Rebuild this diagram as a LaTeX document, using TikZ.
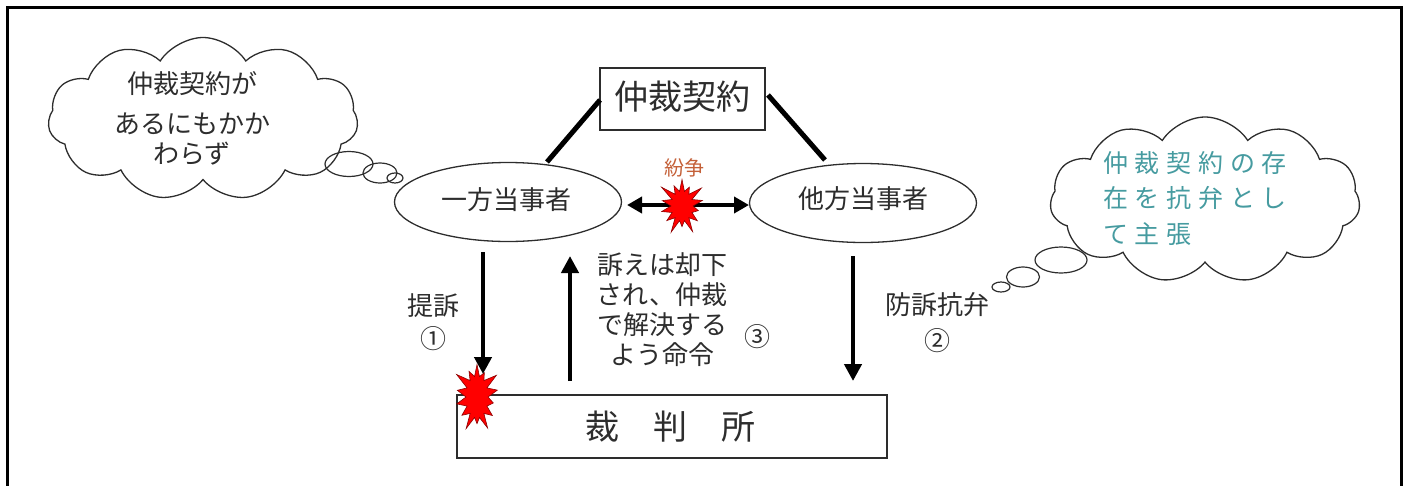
\documentclass[tikz,border=0pt]{standalone}
\usepackage{fontspec}
\newfontfamily\jp{Noto Sans CJK JP}
\newfontfamily\jpwide[LetterSpace=27]{Noto Sans CJK JP}
\usetikzlibrary{shapes.geometric,shapes.symbols,arrows.meta}
\definecolor{inkgray}{RGB}{45,45,45}
\definecolor{tealtxt}{RGB}{70,155,160}
\definecolor{disputec}{RGB}{196,96,56}
\begin{document}
\begin{tikzpicture}[x=1pt,y=-1pt,
  txt/.style={font=\jp\fontsize{26}{30}\selectfont, text=inkgray, align=center, inner sep=0pt},
  party/.style={ellipse, draw=inkgray, line width=1.3pt, minimum width=227pt, minimum height=79pt, inner sep=0pt},
  boxnode/.style={rectangle, draw=inkgray, line width=1.4pt, inner sep=0pt},
  thought/.style={cloud, draw=inkgray, line width=1.3pt, cloud puffs=11, cloud puff arc=115, cloud ignores aspect, inner sep=0pt},
  bubble/.style={ellipse, draw=inkgray, line width=1.2pt, inner sep=0pt},
  boom/.style={starburst, fill=red, draw=red!55!black, line width=0.6pt, starburst points=14, starburst point height=16pt, inner sep=0pt},
  link/.style={line width=5pt, black},
  bigarrow/.style={line width=4.5pt, black, -{Triangle[length=17pt,width=17pt]}},
  dblarrow/.style={line width=4.5pt, black, {Triangle[length=15pt,width=16pt]}-{Triangle[length=15pt,width=16pt]}}
]
\useasboundingbox (0,0) rectangle (1407,485);
% frame
\draw[line width=3pt] (7.5,486) -- (7.5,7.5) -- (1401,7.5) -- (1401,486);

% contract box
\node[boxnode, minimum width=165pt, minimum height=62pt] (contract) at (682.5,99) {};
\node[txt, font=\jp\fontsize{34}{38}\selectfont] (contractT) at (682.5,97) {仲裁契約};

% parties
\node[party] (pa) at (508,202) {};
\node[txt] (paT) at (506,200) {一方当事者};
\node[party] (pb) at (863,203) {};
\node[txt] (pbT) at (863,199) {他方当事者};

% links
\coordinate (l1a) at (547,162);
\coordinate (l1b) at (600,100);
\coordinate (l2a) at (768,95);
\coordinate (l2b) at (825,160);
\draw[link] (l1a) -- (l1b);
\draw[link] (l2a) -- (l2b);

% dispute arrow and starburst
\coordinate (da) at (627,205);
\coordinate (db) at (749,205);
\draw[dblarrow] (da) -- (db);
\node[boom, minimum width=54pt, minimum height=62pt] (boom1) at (682,206) {};
\node[txt, font=\jp\fontsize{20}{22}\selectfont, text=disputec] (disp) at (684,168) {紛争};

% court
\node[boxnode, minimum width=430pt, minimum height=63pt] (court) at (672,426.5) {};
\node[txt, font=\jp\fontsize{34}{38}\selectfont] (courtT) at (670,427) {裁\hspace{34pt}判\hspace{34pt}所};
\node[boom, minimum width=54pt, minimum height=74pt] (boom2) at (477,397) {};

% arrows
\coordinate (a1s) at (483,252);
\coordinate (a1e) at (483,374);
\coordinate (a3s) at (570,381);
\coordinate (a3e) at (570,256);
\coordinate (a2s) at (853,256);
\coordinate (a2e) at (853,381);
\draw[bigarrow] (a1s) -- (a1e);
\draw[bigarrow] (a3s) -- (a3e);
\draw[bigarrow] (a2s) -- (a2e);

% labels
\node[txt] (sue) at (433,306) {提訴};
\node[txt] (n1) at (433,339) {①};
\node[txt] (dismiss) at (662,310) {訴えは却下\\され、仲裁\\で解決する\\よう命令};
\node[txt] (n3) at (757,337) {③};
\node[txt] (defense) at (937,305) {防訴抗弁};
\node[txt] (n2) at (937,341) {②};

% left thought cloud
\node[thought, minimum width=310pt, minimum height=163pt] (cl1) at (203,119) {};
\node[txt] (cl1T) at (192,118) {仲裁契約が\\[10pt]あるにもかか\\わらず};
\node[bubble, minimum width=48pt, minimum height=25pt] (b11) at (349,164) {};
\node[bubble, minimum width=34pt, minimum height=20pt] (b12) at (380,173) {};
\node[bubble, minimum width=16pt, minimum height=10pt] (b13) at (395,178) {};

% right thought cloud
\node[thought, minimum width=310pt, minimum height=166pt] (cl2) at (1205,200) {};
\node[txt, align=left, anchor=west, text=tealtxt, font=\jpwide\fontsize{25}{35.5}\selectfont] (cl2T) at (1103,198) {仲裁契約の存\\在を抗弁とし\\て主張};
\node[bubble, minimum width=52pt, minimum height=26pt] (b21) at (1061,260) {};
\node[bubble, minimum width=33pt, minimum height=20pt] (b22) at (1023,277) {};
\node[bubble, minimum width=18pt, minimum height=10pt] (b23) at (1001,287) {};
\end{tikzpicture}
\end{document}
